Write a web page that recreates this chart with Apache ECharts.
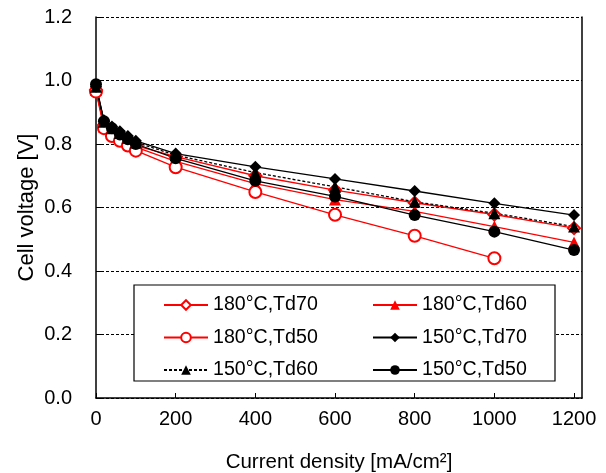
<!DOCTYPE html>
<html>
<head>
<meta charset="utf-8">
<script src="https://cdn.jsdelivr.net/npm/echarts@6/dist/echarts.min.js"></script>
<style>
  html, body { margin: 0; padding: 0; background: #fff; }
  #chart { width: 606px; height: 473px; }
</style>
</head>
<body>
<div id="chart"></div>
<script>
// current density points [mA/cm2]
var currentDensity = [0, 20, 40, 60, 80, 100, 200, 400, 600, 800, 1000, 1200]

// cell voltage [V]
var v180Td70 = [0.97, 0.86, 0.84, 0.825, 0.81, 0.795, 0.76, 0.70, 0.655, 0.615, 0.578, 0.535]
var v180Td60 = [0.97, 0.855, 0.835, 0.82, 0.805, 0.79, 0.745, 0.675, 0.625, 0.588, 0.54, 0.49]
var v180Td50 = [0.965, 0.85, 0.825, 0.81, 0.795, 0.779, 0.727, 0.649, 0.577, 0.511, 0.44]
var v150Td70 = [0.98, 0.875, 0.855, 0.84, 0.825, 0.81, 0.77, 0.728, 0.69, 0.652, 0.613, 0.576]
var v150Td60 = [0.98, 0.87, 0.85, 0.835, 0.82, 0.805, 0.765, 0.71, 0.665, 0.618, 0.582, 0.54]
var v150Td50 = [0.988, 0.872, 0.85, 0.83, 0.815, 0.80, 0.755, 0.684, 0.635, 0.576, 0.524, 0.466]

var seriesNames = ['180°C,Td70', '180°C,Td60', '180°C,Td50', '150°C,Td70', '150°C,Td60', '150°C,Td50']

var FONT = 'Liberation Sans, Arial, sans-serif'

function pairs (ys) {
  return ys.map(function (y, i) { return [currentDensity[i], y] })
}

function makeSeries (name, ys, color, symbol, lineType) {
  var hollow = symbol.indexOf('empty') === 0
  return {
    name: name,
    type: 'line',
    data: pairs(ys),
    symbol: symbol,
    symbolSize: 12,
    showAllSymbol: true,
    animation: false,
    lineStyle: { color: color, width: 1.3, type: lineType || 'solid' },
    itemStyle: {
      color: color,
      borderColor: color,
      borderWidth: hollow ? 1.3 : 0
    },
    emphasis: { disabled: true }
  }
}

var myChart = echarts.init(document.getElementById('chart'))

var legendText = { fontFamily: FONT, fontSize: 19.6, color: '#000', lineHeight: 20 }

var option = {
  backgroundColor: '#fff',
  animation: false,
  textStyle: { fontFamily: FONT },
  grid: { left: 96, right: 24, top: 17, bottom: 75, outerBoundsMode: 'none', containLabel: false },
  graphic: [{
    type: 'rect',
    z: 3,
    shape: { x: 134, y: 285, width: 421, height: 96 },
    style: { fill: '#fff', stroke: '#000', lineWidth: 1.2 }
  }],
  legend: [{
    orient: 'vertical',
    left: 158,
    top: 290,
    z: 5,
    itemWidth: 44,
    itemHeight: 12,
    itemGap: 12.5,
    textStyle: legendText,
    data: [seriesNames[0], seriesNames[2], seriesNames[4]]
  }, {
    orient: 'vertical',
    left: 367,
    top: 290,
    z: 5,
    itemWidth: 44,
    itemHeight: 12,
    itemGap: 12.5,
    textStyle: legendText,
    data: [seriesNames[1], seriesNames[3], seriesNames[5]]
  }],
  xAxis: {
    type: 'value',
    min: 0,
    max: 1220,
    interval: 200,
    name: 'Current density [mA/cm²]',
    nameLocation: 'middle',
    nameGap: 54,
    nameMoveOverlap: false,
    nameTextStyle: { fontFamily: FONT, fontSize: 20.5, color: '#000' },
    axisLine: { onZero: false, lineStyle: { color: '#000', width: 1.5 } },
    axisTick: { inside: true, length: 5, lineStyle: { color: '#000', width: 1 } },
    axisLabel: {
      fontFamily: FONT, fontSize: 20, color: '#000', margin: 11, showMaxLabel: false,
      formatter: function (v) { return String(v) }
    },
    splitLine: { show: false }
  },
  yAxis: [{
    type: 'value',
    min: 0,
    max: 1.2,
    interval: 0.2,
    name: 'Cell voltage [V]',
    nameLocation: 'middle',
    nameGap: 58,
    nameMoveOverlap: false,
    nameTextStyle: { fontFamily: FONT, fontSize: 22, color: '#000' },
    axisLine: { show: true, lineStyle: { color: '#000', width: 1.5 } },
    axisTick: { show: true, inside: true, length: 5, lineStyle: { color: '#000', width: 1 } },
    axisLabel: {
      fontFamily: FONT, fontSize: 20, color: '#000', margin: 24,
      formatter: function (v) { return v.toFixed(1) }
    },
    splitLine: { show: true, lineStyle: { color: '#000', width: 1, type: [3, 2] } }
  }, {
    type: 'value',
    min: 0,
    max: 1.2,
    position: 'right',
    axisLine: { show: true, lineStyle: { color: '#000', width: 1.5 } },
    axisTick: { show: false },
    axisLabel: { show: false },
    splitLine: { show: false }
  }],
  series: [
    makeSeries(seriesNames[0], v180Td70, '#ff0000', 'emptyDiamond'),
    makeSeries(seriesNames[1], v180Td60, '#ff0000', 'triangle'),
    makeSeries(seriesNames[2], v180Td50, '#ff0000', 'emptyCircle'),
    makeSeries(seriesNames[3], v150Td70, '#000000', 'diamond'),
    makeSeries(seriesNames[4], v150Td60, '#000000', 'triangle', [3, 2]),
    makeSeries(seriesNames[5], v150Td50, '#000000', 'circle')
  ]
}

myChart.setOption(option)
</script>
</body>
</html>
